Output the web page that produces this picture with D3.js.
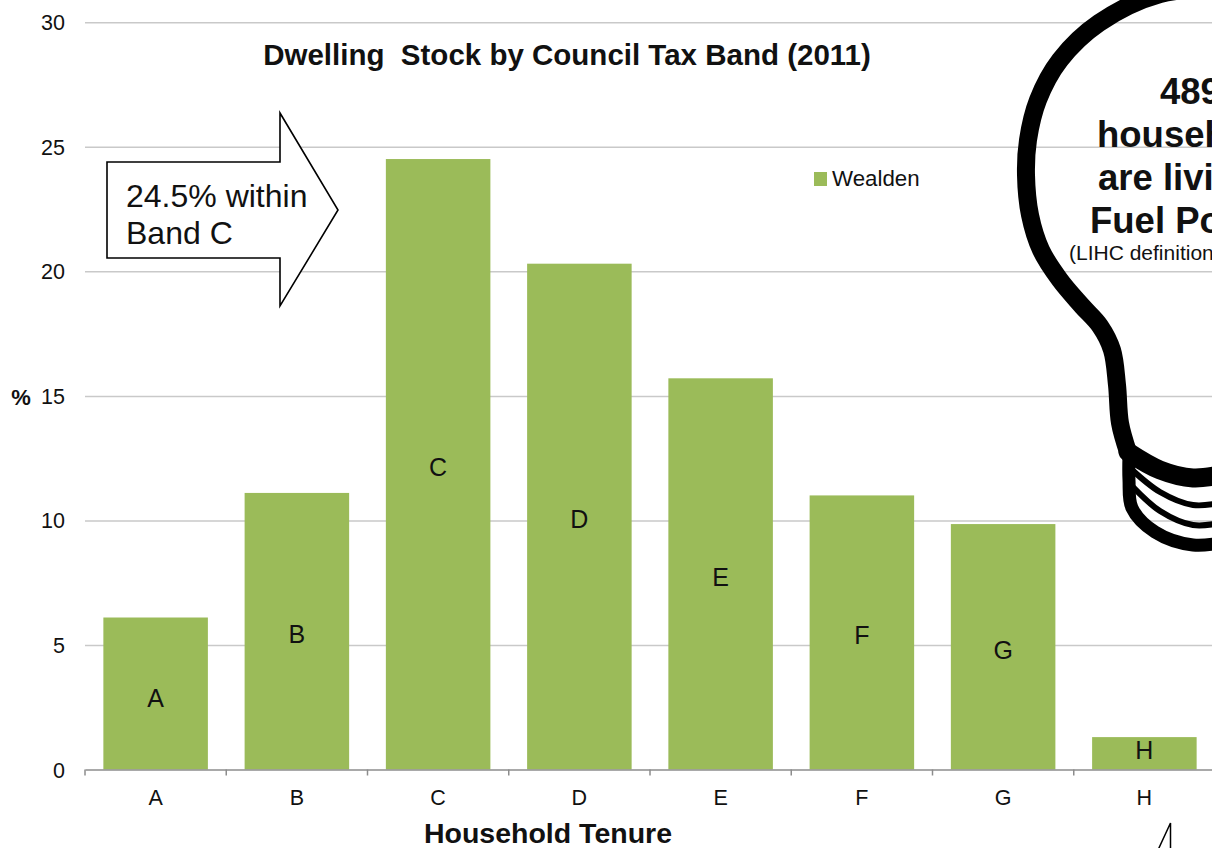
<!DOCTYPE html>
<html><head><meta charset="utf-8">
<script src="https://cdn.jsdelivr.net/npm/d3@7"></script>
<style>html,body{margin:0;padding:0;background:#fff;overflow:hidden}svg{display:block;font-family:"Liberation Sans",Arial,sans-serif}</style>
</head><body><svg id="c" width="1212" height="848"></svg>
<script>
const categories=["A","B","C","D","E","F","G","H"];
const values=[6.1,11.1,24.5,20.3,15.7,11.0,9.85,1.3];
const labelAt=[2.87,5.44,12.14,10.05,7.72,5.4,4.8,0.78];
const yTicks=[0,5,10,15,20,25,30];
const title="Dwelling  Stock by Council Tax Band (2011)";
const xTitle="Household Tenure";
const yTitle="%";
const seriesName="Wealden";
const arrowLines=["24.5% within","Band C"];
const bulbLines=["489","households","are living in","Fuel Poverty"];
const bulbNote="(LIHC definition)";

const svg=d3.select("#c");
const x=d3.scaleBand().domain(categories).range([85,1215]).paddingInner(0.26).paddingOuter(0.13);
const y=d3.scaleLinear().domain([0,30]).range([769.5,22]);
const green="#9BBB59",grid="#c9c9c9",ink="#111";

// y axis with gridlines
const ya=svg.append("g").attr("transform","translate(85,0.7)")
  .call(d3.axisLeft(y).tickValues(yTicks).tickSize(0).tickPadding(20));
ya.select(".domain").remove();
ya.selectAll("text").attr("font-family","Liberation Sans").attr("font-size",21.5).attr("fill",ink);
ya.selectAll("line.grid").data(yTicks.filter(d=>d>0)).enter().append("line").attr("class","grid")
  .attr("x1",0).attr("x2",1127).attr("y1",d=>y(d)).attr("y2",d=>y(d))
  .attr("stroke",grid).attr("stroke-width",1.5);

// bars
svg.append("g").selectAll("rect").data(values).enter().append("rect")
  .attr("x",(d,i)=>x(categories[i])).attr("width",x.bandwidth())
  .attr("y",d=>y(d)).attr("height",d=>y(0)-y(d)).attr("fill",green);

// x axis
const xa=svg.append("g").attr("transform",`translate(0,${y(0)})`)
  .call(d3.axisBottom(x).tickSize(0).tickPadding(20));
xa.select(".domain").attr("stroke","#8c8c8c").attr("stroke-width",1.5);
xa.selectAll("text").attr("font-family","Liberation Sans").attr("font-size",21.5).attr("fill",ink);
const step=x.step();
xa.selectAll("line.sep").data(categories).enter().append("line").attr("class","sep")
  .attr("x1",(d,i)=>x.range()[0]+i*step).attr("x2",(d,i)=>x.range()[0]+i*step)
  .attr("y1",0).attr("y2",6).attr("stroke","#8c8c8c").attr("stroke-width",1.5);

// labels in bars
svg.append("g").selectAll("text").data(categories).enter().append("text")
  .attr("x",d=>x(d)+x.bandwidth()/2).attr("y",(d,i)=>y(labelAt[i])+9)
  .attr("text-anchor","middle").attr("font-size",25).attr("fill",ink).text(d=>d);

// titles
svg.append("text").attr("x",567).attr("y",65).attr("text-anchor","middle")
  .attr("font-size",29.5).attr("font-weight","bold").attr("fill",ink).style("white-space","pre").text(title);
svg.append("text").attr("x",548).attr("y",843).attr("text-anchor","middle")
  .attr("font-size",28.5).attr("font-weight","bold").attr("fill",ink).text(xTitle);
svg.append("text").attr("x",21).attr("y",405).attr("text-anchor","middle")
  .attr("font-size",22).attr("font-weight","bold").attr("fill",ink).text(yTitle);

// legend
svg.append("rect").attr("x",814).attr("y",172).attr("width",13).attr("height",14).attr("fill",green);
svg.append("text").attr("x",832).attr("y",186).attr("font-size",22.3).attr("fill",ink).text(seriesName);

// arrow
svg.append("path").attr("d",d3.line()([[107,162],[280,162],[280,113],[338,210],[280,306],[280,258],[107,258]])+"Z")
  .attr("fill","#fff").attr("stroke","#000").attr("stroke-width",1.6);
svg.append("g").selectAll("text").data(arrowLines).enter().append("text")
  .attr("x",126).attr("y",(d,i)=>207+i*37).attr("font-size",32).attr("fill",ink).text(d=>d);

// light bulb
const curve=d3.line().curve(d3.curveCatmullRom.alpha(0.5));
const bulb=svg.append("g").attr("fill","none").attr("stroke","#000").attr("stroke-linecap","round");
bulb.append("path").attr("stroke-width",18)
 .attr("d",curve([[1225,-12],[1160,-6],[1099,23],[1060,60],[1038,100],[1028,140],[1026,175],[1030,215],[1041,250],[1060,280],[1082,306],[1100,326],[1112,350],[1117,385],[1120,423],[1128,452]]));
bulb.append("path").attr("stroke-width",19)
 .attr("d",curve([[1128,452],[1160,470],[1193,478],[1225,474]]));
bulb.append("path").attr("stroke-width",6)
 .attr("d",curve([[1130,468],[1160,492],[1193,505],[1225,502]]));
bulb.append("path").attr("stroke-width",6)
 .attr("d",curve([[1132,486],[1160,511],[1193,525],[1225,522]]));
bulb.append("path").attr("stroke-width",13)
 .attr("d",curve([[1129,455],[1129,480],[1132,508],[1155,532],[1193,545],[1225,542]]));

// bulb text
const bx=[1160,1097,1098,1090];
svg.append("g").selectAll("text").data(bulbLines).enter().append("text")
  .attr("x",(d,i)=>bx[i]).attr("y",(d,i)=>104+i*43).attr("font-size",36.5).attr("font-weight","bold").attr("fill",ink).text(d=>d);
svg.append("text").attr("x",1069).attr("y",260).attr("font-size",21).attr("fill",ink).text(bulbNote);

// callout pointer
svg.append("path").attr("d",d3.line()([[1158,850],[1170.5,823],[1170.5,850]])).attr("fill","none").attr("stroke","#000").attr("stroke-width",1.5);
</script></body></html>
